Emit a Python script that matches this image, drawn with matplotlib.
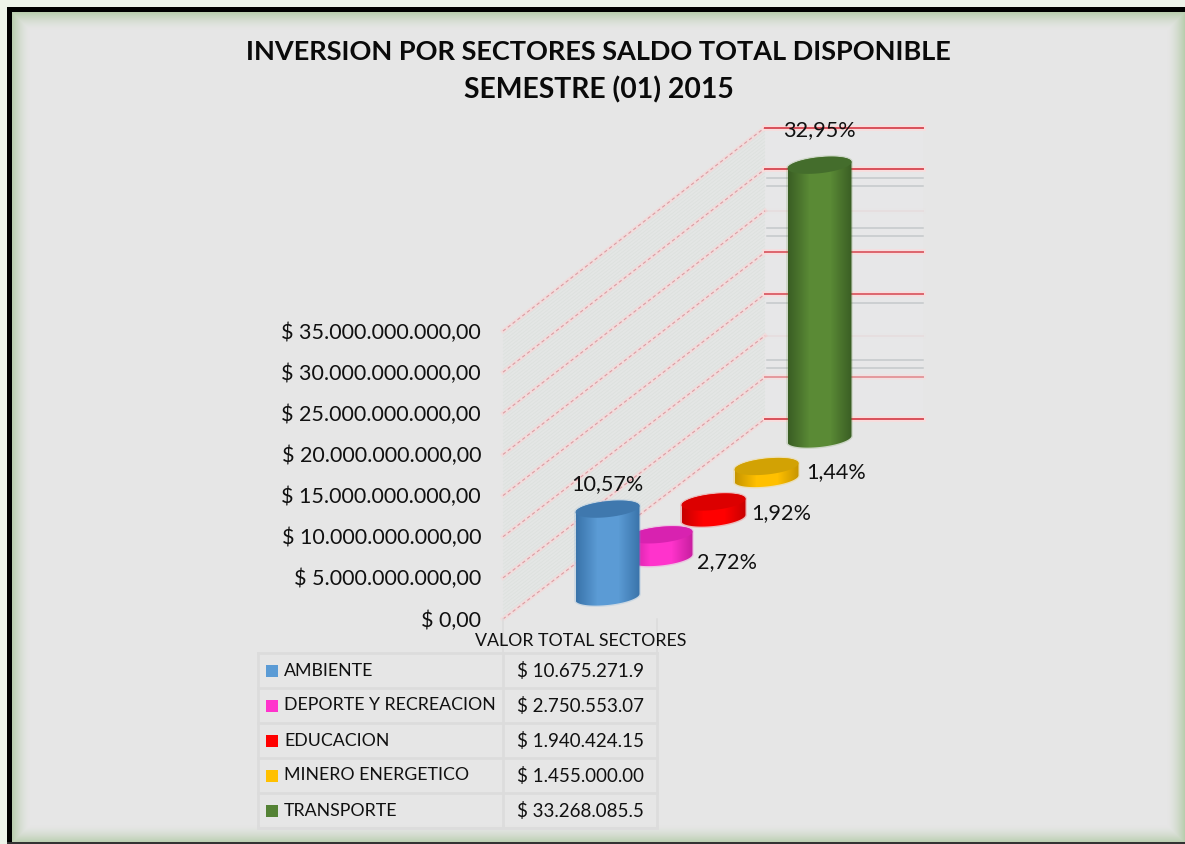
import numpy as np
import matplotlib
matplotlib.use("Agg")
import matplotlib.pyplot as plt
from matplotlib.collections import LineCollection
from matplotlib.colors import LinearSegmentedColormap
from matplotlib.patches import Polygon, Rectangle

plt.rcParams["font.family"] = ["Lato", "DejaVu Sans"]

# data
sectors = ["AMBIENTE", "DEPORTE Y RECREACION", "EDUCACION", "MINERO ENERGETICO", "TRANSPORTE"]
values = [10.675, 2.751, 1.940, 1.455, 33.268]  # thousand millions
percents = ["10,57%", "2,72%", "1,92%", "1,44%", "32,95%"]
table_values = ["$ 10.675.271.9", "$ 2.750.553.07", "$ 1.940.424.15", "$ 1.455.000.00", "$ 33.268.085.5"]
axis_ticks = [0, 5, 10, 15, 20, 25, 30, 35]
tick_labels = ["$ 0,00", "$ 5.000.000.000,00", "$ 10.000.000.000,00", "$ 15.000.000.000,00",
               "$ 20.000.000.000,00", "$ 25.000.000.000,00", "$ 30.000.000.000,00", "$ 35.000.000.000,00"]
line_strength = [1.0, 0.5, 0.05, 0.85, 0.85, 0.05, 1.0, 1.0]
faint_values = [6.1, 7.1, 13.9, 22.0, 22.9, 28.0, 28.9]

colors = ["#5b9bd5", "#ff33cc", "#ff0000", "#ffc000", "#5a8a35"]
edge_colors = ["#3a74aa", "#c81fa0", "#c80000", "#c79500", "#3a5e24"]
top_colors = ["#3f78ae", "#d822b0", "#dc0000", "#d2a204", "#446d2c"]

# layout, in pixels of the 1185x844 picture
BG = np.array([230, 230, 230]) / 255
GLOW = np.array([165, 195, 150]) / 255
Y0 = 619
PX_PER_UNIT = (619 - 331) / 35
BACK_Y0 = 419
BACK_PER_UNIT = (419 - 127.5) / 35
WALL_L, WALL_M, WALL_R = 503, 765, 923
BAR_X0, BAR_DX = 607.5, 53
BAR_Y0, BAR_DY = 597, 39.5
BAR_A, BAR_B = 32, 8
TILT = 0.1


def val_y(v):
    return Y0 - v * PX_PER_UNIT


def back_y(v):
    return BACK_Y0 - v * BACK_PER_UNIT


def ellipse_pts(cx, cy, start, stop):
    t = np.linspace(start, stop, 60)
    x = cx + BAR_A * np.cos(t)
    y = cy + BAR_B * np.sin(t) - TILT * BAR_A * np.cos(t)
    return np.column_stack([x, y])


fig = plt.figure(figsize=(11.85, 8.44), dpi=100, facecolor="#f2f6ef")
ax = fig.add_axes([0, 0, 1, 1])
ax.axis("off")

# chart area with a soft green glow along the inner edge
xx, yy = np.meshgrid(np.arange(1185) + 0.5, np.arange(844) + 0.5)
dist = np.minimum.reduce([xx - 12, yy - 12, 1185 - xx, 843 - yy])
mix = np.clip(1 - dist / 18, 0, 1) ** 1.6 * 0.72
bg_img = BG + (GLOW - BG) * mix[..., None]
outside = (xx < 7) | (yy < 7)
bg_img[outside] = np.array([238, 244, 234]) / 255
ax.imshow(bg_img, extent=[0, 1185, 844, 0], aspect="auto", zorder=0, interpolation="bilinear")
ax.add_patch(Rectangle((7, 7), 5, 837, fc="black", ec="none", zorder=3))
ax.add_patch(Rectangle((7, 7), 1178, 5, fc="black", ec="none", zorder=3))
ax.add_patch(Rectangle((7, 842), 1178, 2, fc="#333333", ec="none", zorder=3))

# back walls of the 3d plot
ax.add_patch(Polygon([(WALL_L, val_y(0)), (WALL_L, val_y(35)), (WALL_M, back_y(35)),
                      (WALL_M, back_y(0))], fc="#e4e6e5", ec="none", zorder=4))
ax.add_patch(Rectangle((WALL_M, back_y(35)), WALL_R - WALL_M, back_y(0) - back_y(35),
                       fc="#e7e7e8", ec="none", zorder=4))

# fine hatching on the slanted wall
hatch = []
steps = np.linspace(0, 35, 85)
for v in steps:
    hatch.append([(WALL_L, val_y(v)), (WALL_M, back_y(v))])
ax.add_collection(LineCollection(hatch, colors="#dde1de", linewidths=0.6, zorder=5))

for v, s in zip(axis_ticks, line_strength):
    ax.plot([WALL_L, WALL_M], [val_y(v), back_y(v)], color="#f1dcdc", lw=3, zorder=5)
    ax.plot([WALL_L, WALL_M], [val_y(v), back_y(v)], color="#dc9ca2", lw=0.8, ls=(0, (3, 2.5)), zorder=6)
    ax.plot([WALL_M, WALL_R], [back_y(v), back_y(v)], color="#fadcdc", lw=4, alpha=s, zorder=5)
    ax.plot([WALL_M, WALL_R], [back_y(v), back_y(v)], color="#d8505a", lw=1.4, alpha=s, zorder=6)
for v in faint_values:
    ax.plot([WALL_M + 2, WALL_R], [back_y(v), back_y(v)], color="#bcc0c4", lw=1.1, alpha=0.8, zorder=5)

# cylinders, back to front so that the first one stays on top
for i in reversed(range(len(values))):
    cx = BAR_X0 + i * BAR_DX
    base = BAR_Y0 - i * BAR_DY
    top = base - values[i] * PX_PER_UNIT
    zo = 10 + (len(values) - i) * 2
    body = np.vstack([ellipse_pts(cx, base, 0, np.pi), ellipse_pts(cx, top, np.pi, 2 * np.pi)])
    ax.add_patch(Polygon(body, closed=True, fc="none", ec=colors[i], lw=2, alpha=0.18, zorder=zo - 0.5))
    cmap = LinearSegmentedColormap.from_list("c", [edge_colors[i], colors[i], colors[i], edge_colors[i]])
    im = ax.imshow(np.linspace(0, 1, 64).reshape(1, -1), cmap=cmap, aspect="auto", zorder=zo,
                   extent=[cx - BAR_A, cx + BAR_A, base + BAR_B + 4, top - BAR_B - 4])
    clip = Polygon(body, closed=True, transform=ax.transData, fc="none", ec="none")
    ax.add_patch(clip)
    im.set_clip_path(clip)
    ax.add_patch(Polygon(ellipse_pts(cx, top, 0, 2 * np.pi), fc=top_colors[i], ec="none", zorder=zo + 1))

# axis labels
for v, lab in zip(axis_ticks, tick_labels):
    ax.text(481, val_y(v) + 1.5, lab, ha="right", va="center", fontsize=15.5, color="#111111", zorder=20)

# percent labels next to each cylinder
label_dx = [0, 67, 68, 69.5, 0]
label_dy = [-25, 27.5, 11, 6, -35]
for i in range(len(values)):
    cx = BAR_X0 + i * BAR_DX
    top = BAR_Y0 - i * BAR_DY - values[i] * PX_PER_UNIT
    ax.text(cx + label_dx[i], top + label_dy[i], percents[i], ha="center", va="center",
            fontsize=15.6, color="#111111", zorder=30)

# title
ax.text(598.5, 52, "INVERSION POR SECTORES SALDO TOTAL DISPONIBLE", ha="center", va="center",
        fontsize=19.5, fontweight="bold", color="#0a0a0a", zorder=20)
ax.text(598.5, 90, "SEMESTRE (01) 2015", ha="center", va="center",
        fontsize=20.4, fontweight="bold", color="#0a0a0a", zorder=20)

# data table below the plot
TAB_X = [258, 503, 657]
TAB_Y0, TAB_DY = 653, 35
for x in TAB_X[1:]:
    ax.plot([x, x], [Y0, TAB_Y0], color="#dcdcdc", lw=1.2, zorder=7)
for x in TAB_X:
    ax.plot([x, x], [TAB_Y0, TAB_Y0 + 5 * TAB_DY], color="#dcdcdc", lw=2, zorder=7)
for r in range(6):
    y = TAB_Y0 + r * TAB_DY
    ax.plot([TAB_X[0], TAB_X[2]], [y, y], color="#dcdcdc", lw=2, zorder=7)
ax.text(581, 641.5, "VALOR TOTAL SECTORES", ha="center", va="center", fontsize=12.8,
        color="#111111", zorder=20)
for r, name in enumerate(sectors):
    yc = TAB_Y0 + (r + 0.5) * TAB_DY
    ax.add_patch(Rectangle((266, yc - 6), 12, 12, fc=colors[r] if r != 4 else "#548235", ec="none", zorder=8))
    ax.text(284, yc, name, ha="left", va="center", fontsize=12.8, color="#111111", zorder=20)
    ax.text(517, yc + 0.5, table_values[r], ha="left", va="center", fontsize=13.5, color="#111111", zorder=20)

ax.set_xlim(0, 1185)
ax.set_ylim(844, 0)
fig.savefig("out.png", dpi=100, facecolor=fig.get_facecolor())
